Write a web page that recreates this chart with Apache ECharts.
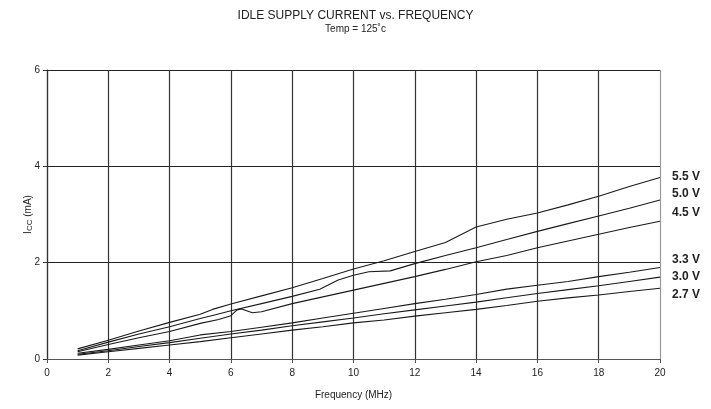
<!DOCTYPE html>
<html><head><meta charset="utf-8">
<script src="https://cdn.jsdelivr.net/npm/echarts@6/dist/echarts.min.js"></script>
<style>html,body{margin:0;padding:0;background:#fff}#c{width:711px;height:409px}</style>
</head><body><div id="c"></div>
<script>
const chartTitle = 'IDLE SUPPLY CURRENT vs. FREQUENCY';
const chartSubtitle = 'Temp = 125\u02DAc';
const xAxisName = 'Frequency (MHz)';
const yAxisName = '{i|I}{s|CC}{i| (mA)}';
const seriesNames = ['5.5 V', '5.0 V', '4.5 V', '3.3 V', '3.0 V', '2.7 V'];

const freq55 = [1, 2, 3, 4, 5, 5.4, 6, 7, 8, 9, 10, 11, 12, 13, 14, 15, 16, 17, 18, 19, 20];
const icc55  = [0.21, 0.39, 0.58, 0.76, 0.93, 1.03, 1.14, 1.31, 1.48, 1.67, 1.87, 2.04, 2.23, 2.42, 2.74, 2.90, 3.03, 3.20, 3.38, 3.58, 3.77];

const freq50 = [1, 2, 3, 4, 5, 5.5, 6, 7, 8, 8.9, 9.5, 10, 10.5, 11.2, 12, 13, 14, 15, 16, 17, 18, 19, 20];
const icc50  = [0.17, 0.35, 0.52, 0.67, 0.84, 0.92, 1.00, 1.15, 1.30, 1.45, 1.64, 1.74, 1.81, 1.83, 1.98, 2.15, 2.31, 2.48, 2.65, 2.81, 2.97, 3.13, 3.30];

const freq45 = [1, 2, 3, 4, 5, 5.6, 6, 6.2, 6.35, 6.7, 7, 8, 9, 10, 11, 12, 13, 14, 15, 16, 17, 18, 19, 20];
const icc45  = [0.15, 0.30, 0.44, 0.57, 0.74, 0.82, 0.90, 1.02, 1.04, 0.96, 0.98, 1.15, 1.29, 1.43, 1.57, 1.71, 1.86, 2.02, 2.15, 2.31, 2.45, 2.59, 2.73, 2.86];

const freqLow = [1, 2, 3, 4, 5, 6, 7, 8, 9, 10, 11, 12, 13, 14, 15, 16, 17, 18, 19, 20];
const icc33  = [0.12, 0.20, 0.29, 0.38, 0.50, 0.57, 0.66, 0.75, 0.85, 0.95, 1.05, 1.15, 1.24, 1.34, 1.45, 1.53, 1.61, 1.71, 1.80, 1.90];
const icc30  = [0.10, 0.17, 0.26, 0.34, 0.43, 0.52, 0.60, 0.69, 0.77, 0.85, 0.94, 1.02, 1.10, 1.18, 1.27, 1.36, 1.44, 1.52, 1.61, 1.70];
const icc27  = [0.08, 0.15, 0.22, 0.29, 0.36, 0.44, 0.52, 0.60, 0.67, 0.75, 0.81, 0.89, 0.96, 1.03, 1.11, 1.20, 1.27, 1.33, 1.40, 1.47];

const labelShiftY = [-1, -6, -9, -8, 0, 6];

const xs = [freq55, freq50, freq45, freqLow, freqLow, freqLow];
const ys = [icc55, icc50, icc45, icc33, icc30, icc27];

const FONT = '"Liberation Sans", Arial, sans-serif';
const chart = echarts.init(document.getElementById('c'), null, {renderer: 'canvas'});

const vGridColors = ['#333','#333','#333','#333','#333','#333','#333','#333','#333','#333','#9a9a9a'];

chart.setOption({
  animation: false,
  backgroundColor: '#fff',
  title: {
    text: chartTitle, subtext: chartSubtitle, left: 'center', top: 5, itemGap: 2,
    textStyle: {fontFamily: FONT, fontSize: 12, fontWeight: 'normal', color: '#222'},
    subtextStyle: {fontFamily: FONT, fontSize: 10, color: '#222'}
  },
  grid: {left: 47, right: 51, top: 70, bottom: 50, containLabel: false},
  xAxis: {
    type: 'value', min: 0, max: 20, interval: 2,
    name: xAxisName, nameLocation: 'middle', nameGap: 31, nameMoveOverlap: false,
    nameTextStyle: {fontFamily: FONT, fontSize: 10, color: '#222'},
    axisLine: {lineStyle: {color: '#555', width: 1}},
    axisTick: {show: true, length: 4, lineStyle: {color: '#555'}},
    axisLabel: {fontFamily: FONT, fontSize: 10, color: '#222', margin: 9},
    splitLine: {show: true, lineStyle: {color: vGridColors, width: 1.2}}
  },
  yAxis: {
    type: 'value', min: 0, max: 6, interval: 2,
    name: yAxisName, nameLocation: 'middle', nameGap: 13, nameMoveOverlap: false,
    nameTextStyle: {fontFamily: FONT, fontSize: 10, color: '#222',
      rich: {i: {fontFamily: FONT, fontSize: 10, color: '#222'},
             s: {fontFamily: FONT, fontSize: 8, color: '#222', padding: [4, 0, 0, 0]}}},
    axisLine: {show: true, lineStyle: {color: '#333', width: 1.2}},
    axisTick: {show: true, length: 4, lineStyle: {color: '#333'}},
    axisLabel: {fontFamily: FONT, fontSize: 10, color: '#222', margin: 7},
    splitLine: {show: true, lineStyle: {color: '#222', width: 1}}
  },
  series: seriesNames.map((name, k) => ({
    name: name, type: 'line', showSymbol: false, symbol: 'none',
    data: xs[k].map((x, i) => [x, ys[k][i]]),
    lineStyle: {color: '#1a1a1a', width: 1.1},
    endLabel: {
      show: true, formatter: name, distance: 12, offset: [0, labelShiftY[k]],
      fontFamily: FONT, fontSize: 12, fontWeight: 'bold', color: '#222'
    },
    z: 3
  }))
});
</script></body></html>
